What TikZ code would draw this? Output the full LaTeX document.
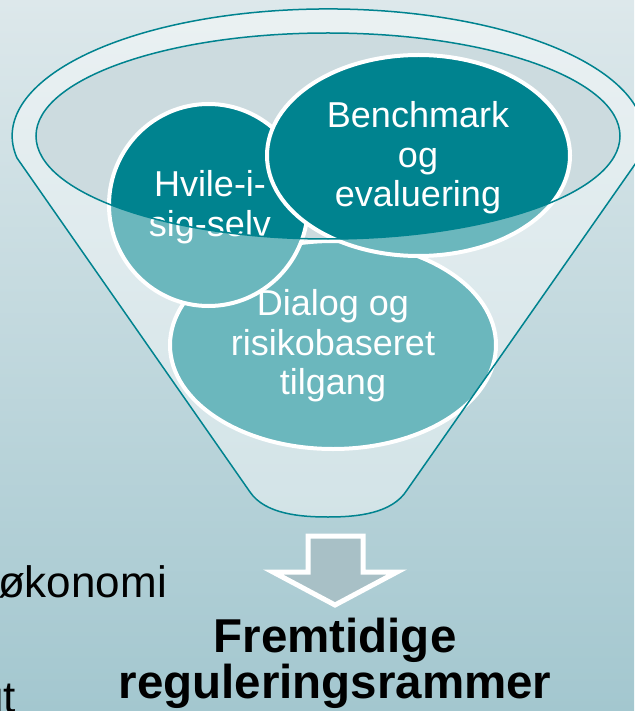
\documentclass[tikz,border=0pt]{standalone}
\usepackage{fontspec}
\setmainfont{Liberation Sans}
\usetikzlibrary{shapes.geometric}
\definecolor{bgtop}{RGB}{221,232,235}
\definecolor{bgbot}{RGB}{163,199,207}
\definecolor{funnelteal}{RGB}{0,131,143}
\definecolor{opening}{RGB}{204,219,223}
\definecolor{arrowfill}{RGB}{168,192,198}
\begin{document}
\begin{tikzpicture}[x=1pt,y=1pt,
  bubble/.style={ellipse, draw=white, line width=4pt, fill=funnelteal, inner sep=0pt},
  bubbletext/.style={text=white, align=center, font=\fontsize{36}{39.5}\selectfont, inner sep=0pt},
  sidetext/.style={text=black, font=\fontsize{44}{48}\selectfont, inner sep=0pt},
  resulttext/.style={text=black, font=\fontsize{47.5}{46}\selectfont\bfseries, inner sep=0pt},
  funnelline/.style={draw=funnelteal, line width=1.5pt}]
\useasboundingbox (0,0) rectangle (634,-711);
\shade[top color=bgtop, bottom color=bgbot] (0,0) rectangle (634,-711);
% funnel opening (back)
\fill[opening] (328,-136) ellipse[x radius=292, y radius=103];
% bubbles
\node[bubble, minimum width=326pt, minimum height=208pt] (dialog) at (333,-345) {};
\node[bubbletext] (dialogtxt) at (333,-346) {Dialog og\\risikobaseret\\tilgang};
\node[bubble, minimum width=199pt, minimum height=202pt] (hvile) at (208.5,-205) {};
\node[bubbletext] (hviletxt) at (210,-207) {Hvile-i-\\sig-selv};
\node[bubble, minimum width=303pt, minimum height=201pt] (bench) at (418.5,-155.5) {};
\node[bubbletext] (benchtxt) at (418,-158) {Benchmark\\og\\evaluering};
% funnel front (translucent)
\fill[white, fill opacity=0.42, even odd rule]
  (17,-158) arc[start angle=190, end angle=-10, x radius=316, y radius=127]
  -- (407,-490) .. controls (392,-514) and (356,-517) .. (328,-517)
  .. controls (300,-517) and (265,-514) .. (250,-492) -- cycle
  (328,-136) ellipse[x radius=292, y radius=103];
\draw[funnelline]
  (17,-158) arc[start angle=190, end angle=-10, x radius=316, y radius=127]
  -- (407,-490) .. controls (392,-514) and (356,-517) .. (328,-517)
  .. controls (300,-517) and (265,-514) .. (250,-492) -- cycle;
\draw[funnelline] (328,-136) ellipse[x radius=292, y radius=103];
% block arrow
\draw[fill=arrowfill, draw=white, line width=5pt, line join=miter]
  (308,-536) -- (363,-536) -- (363,-572) -- (397,-572) -- (335,-605)
  -- (273,-572) -- (308,-572) -- cycle;
% texts
\node[sidetext, anchor=base east] (oekonomi) at (167,-597) {økonomi};
\node[sidetext, anchor=base east] (ut) at (16,-712) {ut};
\node[resulttext, anchor=base] (res1) at (335,-652) {Fremtidige};
\node[resulttext, anchor=base] (res2) at (335,-698) {reguleringsrammer};
\end{tikzpicture}
\end{document}
